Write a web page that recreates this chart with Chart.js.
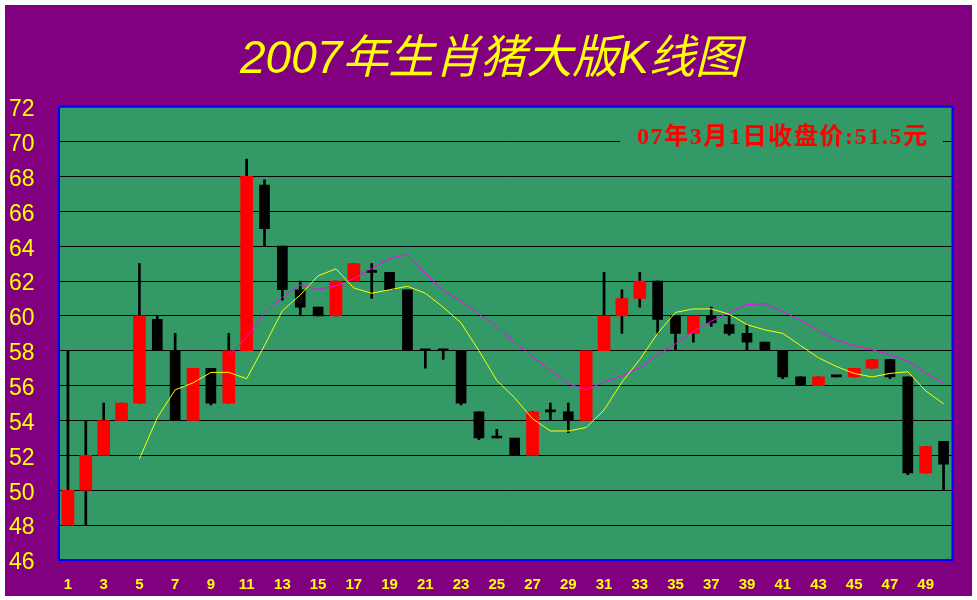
<!DOCTYPE html>
<html lang="zh">
<head>
  <meta charset="UTF-8">
  <title>2007年生肖猪大版K线图</title>
  <script src="https://cdn.jsdelivr.net/npm/chart.js"></script>
  <style>
    html, body { margin: 0; padding: 0; background: #ffffff; }
    #kChart { position: absolute; left: 5px; top: 5px; background: #800080; }
  </style>
</head>
<body>
  <canvas id="kChart" width="967" height="591"></canvas>
  <script>
    // candle data (index 0 = day 1)
    const categories = ['1','2','3','4','5','6','7','8','9','10','11','12','13','14','15','16','17','18','19','20',
      '21','22','23','24','25','26','27','28','29','30','31','32','33','34','35','36','37','38','39','40',
      '41','42','43','44','45','46','47','48','49','50'];
    const opens  = [48, 50, 52, 54, 55, 59.8, 58, 54, 57, 55, 58, 67.5, 64, 61.5, 60.5, 60, 62, 62.5, 62.5, 61.5,
      58, 58, 58, 54.5, 53, 53, 52, 54.5, 54.5, 54, 58, 60, 61, 62, 60, 59, 60, 59.5, 59, 58.5,
      58, 56.5, 56, 56.5, 56.5, 57, 57.5, 56.5, 51, 52.8];
    const highs  = [58, 54, 55, 55, 63, 60, 59, 57, 57, 59, 69, 67.8, 64, 62, 60.5, 62, 63, 63, 62.5, 61.5,
      58, 58, 58, 54.5, 53.5, 53, 54.5, 55, 55, 58, 62.5, 61.5, 62.5, 62, 60, 60, 60.5, 60, 59.5, 58.5,
      58, 56.5, 56.5, 56.5, 57, 57.5, 57.5, 56.5, 52.5, 52.8];
    const lows   = [48, 48, 52, 54, 55, 58, 54, 54, 54.9, 55, 58, 64, 60.9, 60, 60, 60, 62, 61, 61.5, 58,
      57, 57.5, 54.9, 52.9, 53, 52, 52, 54, 53.3, 54, 58, 59, 60.5, 59, 58, 58.5, 59.4, 58.9, 58, 58,
      56.4, 56, 56, 56.5, 56.5, 57, 56.4, 50.9, 51, 50];
    const closes = [50, 52, 54, 55, 60, 58, 54, 57, 55, 58, 68, 65, 61.5, 60.5, 60, 62, 63, 62.5, 61.5, 58,
      58, 58, 55, 53, 53, 52, 54.5, 54.5, 54, 58, 60, 61, 62, 59.8, 59, 60, 59.6, 59, 58.5, 58,
      56.5, 56, 56.5, 56.5, 57, 57.5, 56.5, 51, 52.5, 51.5];
    // yellow and magenta average lines
    const avgYellow = [null, null, null, null, 51.8, 54.16, 55.76, 56.16, 56.76, 56.76,
      56.4, 58.3, 60.3, 61.2, 62.3, 62.7, 61.6, 61.3, 61.5, 61.7,
      61.3, 60.5, 59.6, 58.0, 56.3, 55.3, 54.1, 53.4, 53.4, 53.6,
      54.6, 56.2, 57.5, 59.0, 60.2, 60.4, 60.4, 60.1, 59.5, 59.2,
      59.0, 58.3, 57.6, 57.1, 56.7, 56.5, 56.7, 56.8, 55.7, 54.96];
    const avgMagenta = [null, null, null, null, null, null, null, null, null, 57.7,
      58.8, 60.18, 61.08, 61.78, 61.53, 61.73, 62.13, 62.73, 63.28, 63.53,
      62.43, 61.45, 60.85, 60.1, 59.4, 58.5, 57.66, 56.86, 56.11, 55.76,
      56.21, 56.56, 57.01, 57.76, 58.41, 59.11, 59.7, 60.2, 60.65, 60.7,
      60.25, 59.75, 59.16, 58.61, 58.31, 58.06, 57.76, 57.41, 56.72, 56.15];
    const yMin = 46, yMax = 72, yStep = 2;
    const noteText = '07年3月1日收盘价:51.5元';

    const upBodies = opens.map((o, i) => closes[i] > o ? [o, closes[i]] : null);
    const downBodies = opens.map((o, i) => closes[i] <= o ? [o, closes[i]] : null);
    const wicks = lows.map((l, i) => [l, highs[i]]);

    // green plot area, blue frame and the closing price note
    const plotFrame = {
      id: 'plotFrame',
      beforeDraw(chart) {
        const a = chart.chartArea, ctx = chart.ctx;
        ctx.save();
        ctx.fillStyle = '#339966';
        ctx.fillRect(a.left, a.top, a.right - a.left, a.bottom - a.top);
        ctx.restore();
      },
      afterDraw(chart) {
        const a = chart.chartArea, ctx = chart.ctx;
        ctx.save();
        ctx.font = 'bold 24px "Liberation Serif", "Noto Sans CJK SC", serif';
        ctx.letterSpacing = '1.6px';
        const y = chart.scales.y.getPixelForValue(70) - 4;
        ctx.fillStyle = '#339966';
        ctx.fillRect(a.left + 561, y - 11, 323, 22);
        ctx.fillStyle = '#ff0000';
        ctx.textAlign = 'right';
        ctx.textBaseline = 'middle';
        ctx.fillText(noteText, a.right - 24, y);
        ctx.strokeStyle = '#0000ff';
        ctx.lineWidth = 2;
        ctx.strokeRect(a.left, a.top, a.right - a.left, a.bottom - a.top);
        ctx.restore();
      }
    };

    new Chart(document.getElementById('kChart'), {
      type: 'bar',
      data: {
        labels: categories,
        datasets: [
          { type: 'line', data: avgYellow, borderColor: '#ffff00', borderWidth: 1, pointRadius: 0, tension: 0, order: 0 },
          { type: 'line', data: avgMagenta, borderColor: '#ff00ff', borderWidth: 1, pointRadius: 0, tension: 0, order: 0 },
          { data: upBodies, backgroundColor: '#ff0000', barThickness: 12, grouped: false, order: 1 },
          { data: downBodies, backgroundColor: '#000000', barThickness: 10, minBarLength: 2, grouped: false, order: 1 },
          { data: wicks, backgroundColor: '#000000', barThickness: 2, grouped: false, order: 2 }
        ]
      },
      options: {
        responsive: false,
        animation: false,
        devicePixelRatio: 1,
        layout: { padding: { top: 0, right: 0, bottom: 0, left: 4 } },
        plugins: {
          legend: { display: false },
          tooltip: { enabled: false },
          title: {
            display: true,
            text: '2007年生肖猪大版K线图',
            color: '#ffff00',
            font: { family: '"Liberation Sans", "Noto Sans CJK SC", sans-serif', size: 46, style: 'italic', weight: 'normal', lineHeight: 1.2 },
            padding: { top: 28, bottom: 18.5 }
          }
        },
        scales: {
          x: {
            offset: true,
            grid: { display: false },
            border: { display: false },
            afterFit(s) { s.height = 36; },
            ticks: {
              autoSkip: false,
              maxRotation: 0,
              padding: 8,
              color: '#ffff00',
              font: { family: '"Liberation Sans", Arial, sans-serif', size: 15, weight: 'bold' },
              callback: (v, i) => i % 2 === 0 ? categories[i] : ''
            }
          },
          y: {
            min: yMin,
            max: yMax,
            grid: { color: '#000000', lineWidth: 1, drawTicks: false },
            border: { display: false },
            afterFit(s) { s.width = 50; },
            ticks: {
              stepSize: yStep,
              padding: 0,
              crossAlign: 'far',
              labelOffset: 3,
              color: '#ffff00',
              font: { family: '"Liberation Sans", Arial, sans-serif', size: 23 }
            }
          },
          // empty strip on the right of the plot
          yRight: {
            position: 'right',
            grid: { display: false },
            border: { display: false },
            ticks: { display: false },
            afterFit(s) { s.width = 19.5; }
          }
        }
      },
      plugins: [plotFrame]
    });
  </script>
</body>
</html>
